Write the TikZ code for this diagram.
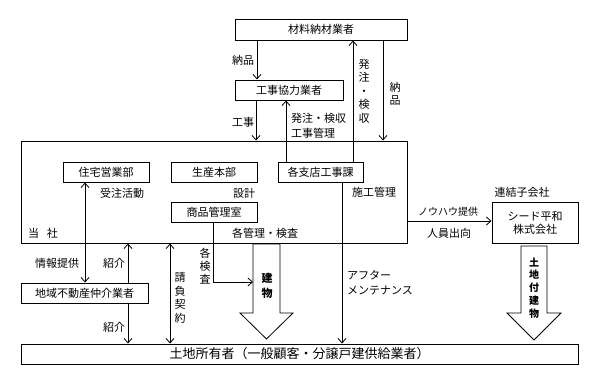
\documentclass[tikz,border=0pt]{standalone}
\usepackage{fontspec}
\setmainfont{Noto Sans CJK JP}
\usetikzlibrary{arrows.meta}
\begin{document}
\begin{tikzpicture}[x=1pt,y=-1pt,
  >={Straight Barb[length=4.5pt,width=8pt]},
  box/.style={draw,line width=1pt,inner sep=0pt,font=\fontsize{11}{13}\selectfont},
  con/.style={line width=0.8pt},
  lbl/.style={inner sep=0pt,font=\fontsize{11}{13}\selectfont},
  vlbl/.style={inner sep=0pt,align=center,font=\fontsize{11}{13.5}\selectfont},
  hollow/.style={draw,line width=0.8pt,fill=white}]
\useasboundingbox (0,0) rectangle (600,383);
% boxes
\node[box,minimum width=172pt,minimum height=21pt] (mat) at (321,29.5) {材料納材業者};
\node[box,minimum width=108pt,minimum height=20pt] (kyo) at (289,90) {工事協力業者};
\node[box,minimum width=386pt,minimum height=102pt] (tosha) at (214,192) {};
\node[box,minimum width=86pt,minimum height=20pt] (jutaku) at (106,172) {住宅営業部};
\node[box,minimum width=86pt,minimum height=20pt] (seisan) at (214,172) {生産本部};
\node[box,minimum width=85pt,minimum height=20pt] (shiten) at (320.5,172) {各支店工事課};
\node[box,minimum width=86pt,minimum height=20pt] (shohin) at (214,212) {商品管理室};
\node[box,minimum width=86pt,minimum height=41pt,align=center] (seed) at (535,222.5) {シード平和\\株式会社};
\node[box,minimum width=127pt,minimum height=20pt] (chiiki) at (84.5,293) {地域不動産仲介業者};
\node[box,minimum width=557pt,minimum height=20pt,font=\fontsize{13}{15}\selectfont] (owner) at (299.5,354) {土地所有者（一般顧客・分譲戸建供給業者）};
% hollow arrows
\draw[hollow] (253,244) -- (280,244) -- (280,313) -- (293,313) -- (266.5,339) -- (240,313) -- (253,313) -- cycle;
\draw[hollow] (521,246) -- (547,246) -- (547,313) -- (561,313) -- (534,340) -- (507,313) -- (521,313) -- cycle;
\coordinate (tatemono) at (253,282);
% connectors
\draw[con,->] (257,0 |- mat.south) -- (257,0 |- kyo.north);
\draw[con,->] (256,0 |- kyo.south) -- (256,0 |- tosha.north);
\draw[con,->] (286,0 |- shiten.north) -- (286,0 |- kyo.south);
\draw[con,->] (353,0 |- shiten.north) -- (353,0 |- mat.south);
\draw[con,->] (383,0 |- mat.south) -- (383,0 |- tosha.north);
\draw[con,<->] (85,0 |- jutaku.south) -- (85,0 |- chiiki.north);
\draw[con,->] (128,0 |- chiiki.north) -- (128,0 |- tosha.south);
\draw[con,->] (128,0 |- chiiki.south) -- (128,0 |- owner.north);
\draw[con,<->] (170,0 |- tosha.south) -- (170,0 |- owner.north);
\draw[con,->] (213,0 |- shohin.south) |- (tatemono);
\draw[con,->] (342,0 |- shiten.south) -- (342,0 |- owner.north);
\draw[con,->] (0,221 -| tosha.east) -- (0,221 -| seed.west);
% labels
\node[lbl] (l1) at (243,60) {納品};
\node[vlbl] (l2) at (364,91) {発\\注\\・\\検\\収};
\node[vlbl,font=\fontsize{11}{13}\selectfont] (l3) at (395,94) {納\\品};
\node[lbl] (l4) at (243,122) {工事};
\node[lbl,anchor=west,align=left,font=\fontsize{11}{15}\selectfont] (l5) at (291,125.5) {発注・検収\\工事管理};
\node[lbl] (l6) at (122,193) {受注活動};
\node[lbl] (l7) at (244,193) {設計};
\node[lbl] (l8) at (43,233) {当\hspace{0.7em}社};
\node[lbl] (l9) at (265,233) {各管理・検査};
\node[lbl] (l10) at (374,192) {施工管理};
\node[lbl,font=\fontsize{10}{12}\selectfont] (l11) at (448,212) {ノウハウ提供};
\node[lbl] (l12) at (449,233) {人員出向};
\node[lbl] (l13) at (522,192) {連結子会社};
\node[lbl] (l14) at (57,263) {情報提供};
\node[lbl] (l15) at (114,263) {紹介};
\node[lbl] (l16) at (114,327) {紹介};
\node[vlbl] (l17) at (180,298) {請\\負\\契\\約};
\node[vlbl,font=\fontsize{11}{13}\selectfont] (l18) at (205,266) {各\\検\\査};
\node[lbl,anchor=west,align=left,font=\fontsize{11}{15}\selectfont] (l19) at (347,282.5) {アフター\\メンテナンス};
\node[vlbl,font=\bfseries\fontsize{11}{15}\selectfont] (l20) at (267,285.5) {建\\物};
\node[vlbl,font=\bfseries\fontsize{10}{12.8}\selectfont] (l21) at (534,288) {土\\地\\付\\建\\物};
\end{tikzpicture}
\end{document}
